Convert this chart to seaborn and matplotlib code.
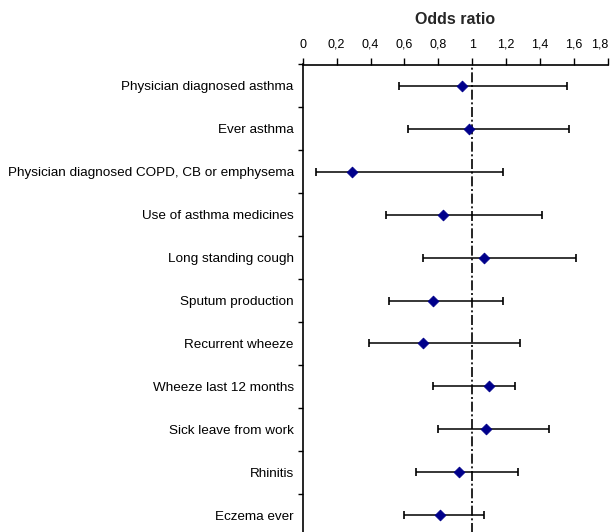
import matplotlib
matplotlib.use("Agg")
import matplotlib.pyplot as plt
import matplotlib.ticker as mticker
import numpy as np
import pandas as pd
import seaborn as sns

outcomes = [
    "Physician diagnosed asthma",
    "Ever asthma",
    "Physician diagnosed COPD, CB or emphysema",
    "Use of asthma medicines",
    "Long standing cough",
    "Sputum production",
    "Recurrent wheeze",
    "Wheeze last 12 months",
    "Sick leave from work",
    "Rhinitis",
    "Eczema ever",
]
odds_ratio = [0.94, 0.98, 0.29, 0.83, 1.07, 0.77, 0.71, 1.10, 1.08, 0.92, 0.81]
ci_lower = [0.57, 0.62, 0.08, 0.49, 0.71, 0.51, 0.39, 0.77, 0.80, 0.67, 0.60]
ci_upper = [1.56, 1.57, 1.18, 1.41, 1.61, 1.18, 1.28, 1.25, 1.45, 1.27, 1.07]
x_ticks = [0, 0.2, 0.4, 0.6, 0.8, 1.0, 1.2, 1.4, 1.6, 1.8]

df = pd.DataFrame({
    "outcome": outcomes,
    "pos": np.arange(len(outcomes)),
    "or": odds_ratio,
    "lo": ci_lower,
    "hi": ci_upper,
})

sns.set_theme(style="ticks")
plt.rcParams["font.family"] = ["Liberation Sans", "DejaVu Sans"]

W, H = 615, 532
fig = plt.figure(figsize=(W / 100, H / 100), dpi=100)
top_px, bottom_px = 64.5, 536.5
left_px, right_px = 302.7, 608.0
ax = fig.add_axes([left_px / W, 1 - bottom_px / H,
                   (right_px - left_px) / W, (bottom_px - top_px) / H])

# confidence intervals
ax.errorbar(df["or"], df["pos"],
            xerr=[df["or"] - df["lo"], df["hi"] - df["or"]],
            fmt="none", ecolor="black", elinewidth=1.1,
            capsize=2.6, capthick=1.2, zorder=2)

# reference line at OR = 1
ax.axvline(1.0, color="black", lw=1.2, ls=(0, (6, 1.6, 1.2, 1.6)), zorder=1)

# point estimates
sns.scatterplot(data=df, x="or", y="pos", marker="D", s=30,
                color="#00008B", edgecolor="#00008B", linewidth=0.6,
                ax=ax, zorder=3, legend=False)

ax.set_xlim(0, 1.8)
ax.set_ylim(len(outcomes) - 0.5, -0.5)

# x axis on top with comma decimals
ax.xaxis.set_ticks_position("top")
ax.xaxis.set_label_position("top")
ax.set_xticks(x_ticks)
ax.set_xticklabels([("%g" % v).replace(".", ",") for v in x_ticks])
ax.tick_params(axis="x", direction="out", length=5, width=1.0,
               color="black", pad=5, labelsize=9, labelcolor="black")
for lbl in ax.get_xticklabels()[-1:]:
    lbl.set_horizontalalignment("right")

# category labels between minor boundary ticks
ax.set_yticks(df["pos"])
ax.set_yticklabels(outcomes)
ax.yaxis.set_minor_locator(mticker.FixedLocator(np.arange(-0.5, len(outcomes), 1.0)))
ax.tick_params(axis="y", which="major", length=0, pad=6.5,
               labelsize=9.7, labelcolor="black")
ax.tick_params(axis="y", which="minor", direction="out", length=3.5,
               width=1.0, color="black")

for side in ("right", "bottom"):
    ax.spines[side].set_visible(False)
for side in ("top", "left"):
    ax.spines[side].set_color("black")
    ax.spines[side].set_linewidth(1.2)

ax.set_xlabel("")
ax.set_ylabel("")
fig.text((left_px + right_px) / 2 / W, 1 - 19 / H, "Odds ratio",
         ha="center", va="center", fontsize=11.5, fontweight="bold")

fig.savefig("out.png", dpi=100, facecolor="white")
